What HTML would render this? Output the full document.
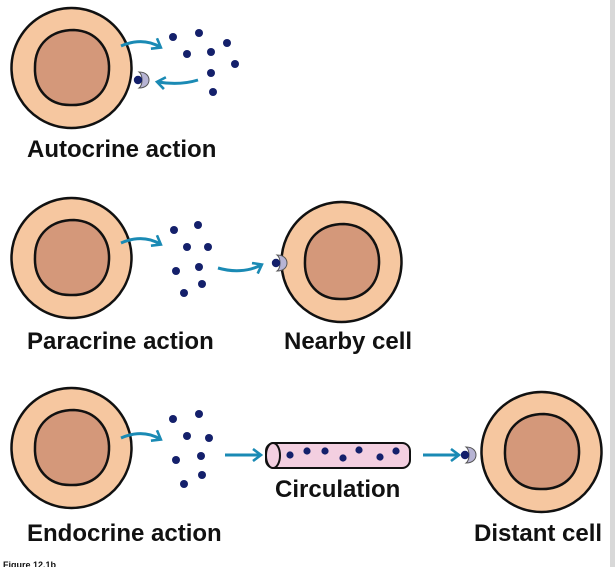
<!DOCTYPE html>
<html><head><style>
html,body{margin:0;padding:0;background:#fff;}
svg{display:block;}
text{font-family:"Liberation Sans",sans-serif;font-weight:bold;fill:#111;}
</style></head><body>
<svg width="615" height="567" viewBox="0 0 615 567" xmlns="http://www.w3.org/2000/svg">
<defs>
<marker id="ah" markerWidth="14" markerHeight="14" refX="9" refY="7" orient="auto" markerUnits="userSpaceOnUse">
<path d="M2,1 L10,7 L2,13" fill="none" stroke="#1a8ab4" stroke-width="2.6"/>
</marker>
<g id="cell">
<path d="M0,-60 A60,60 0 1 1 -1,-60 Z" fill="#f6c7a0" stroke="#111" stroke-width="2.5"/>
<path d="M2,-38 C24,-37 38,-20 37,2 C36,25 20,38 -2,37 C-24,37 -38,21 -37,-1 C-37,-24 -21,-38 2,-38Z" fill="#d4987a" stroke="#111" stroke-width="2.5"/>
</g>
<g id="rec">
<path d="M-2,-8 C6,-8 8,-3 8,0 C8,4 5,8 -2,8 C2,5 2,-5 -2,-8Z" fill="#b7b4d4" stroke="#555" stroke-width="1"/>
<circle cx="-3" cy="0" r="4.2" fill="#14206b"/>
</g>
</defs>
<rect x="610" y="0" width="5" height="567" fill="#d8d8d8"/>
<g fill="#14206b">
<circle cx="173" cy="37" r="4"/><circle cx="199" cy="33" r="4"/><circle cx="227" cy="43" r="4"/><circle cx="187" cy="54" r="4"/><circle cx="211" cy="52" r="4"/><circle cx="235" cy="64" r="4"/><circle cx="211" cy="73" r="4"/><circle cx="213" cy="92" r="4"/>
<circle cx="174" cy="230" r="4"/><circle cx="198" cy="225" r="4"/><circle cx="187" cy="247" r="4"/><circle cx="208" cy="247" r="4"/><circle cx="176" cy="271" r="4"/><circle cx="199" cy="267" r="4"/><circle cx="184" cy="293" r="4"/><circle cx="202" cy="284" r="4"/>
<circle cx="173" cy="419" r="4"/><circle cx="199" cy="414" r="4"/><circle cx="187" cy="436" r="4"/><circle cx="209" cy="438" r="4"/><circle cx="176" cy="460" r="4"/><circle cx="201" cy="456" r="4"/><circle cx="184" cy="484" r="4"/><circle cx="202" cy="475" r="4"/>
</g>
<use href="#cell" x="72" y="68"/>
<use href="#cell" x="72" y="258"/>
<use href="#cell" x="342" y="262"/>
<use href="#cell" x="72" y="448"/>
<use href="#cell" x="542" y="452"/>
<use href="#rec" x="141" y="80"/>
<use href="#rec" x="279" y="263"/>
<use href="#rec" x="468" y="455"/>
<g fill="none" stroke="#1a8ab4" stroke-width="3" marker-end="url(#ah)">
<path d="M121,46 C135,40 148,40 160,47"/>
<path d="M198,80 C185,84 170,84 158,82"/>
<path d="M121,243 C135,237 148,237 160,244"/>
<path d="M218,268 C232,272 248,272 261,265"/>
<path d="M121,438 C135,432 148,432 160,439"/>
<path d="M225,455 L260,455"/>
<path d="M423,455 L458,455"/>
</g>
<rect x="266" y="443" width="144" height="25" rx="8" fill="#f3cfe0" stroke="#111" stroke-width="2"/>
<ellipse cx="273" cy="455.5" rx="7" ry="12.5" fill="#f3cfe0" stroke="#111" stroke-width="2"/>
<g fill="#14206b">
<circle cx="290" cy="455" r="3.6"/><circle cx="307" cy="451" r="3.6"/><circle cx="325" cy="451" r="3.6"/><circle cx="343" cy="458" r="3.6"/><circle cx="359" cy="450" r="3.6"/><circle cx="380" cy="457" r="3.6"/><circle cx="396" cy="451" r="3.6"/>
</g>
<text x="27" y="157" font-size="24">Autocrine action</text>
<text x="27" y="349" font-size="24">Paracrine action</text>
<text x="284" y="349" font-size="24">Nearby cell</text>
<text x="275" y="497" font-size="24">Circulation</text>
<text x="27" y="541" font-size="24">Endocrine action</text>
<text x="474" y="541" font-size="24">Distant cell</text>
<text x="3" y="568" font-size="9">Figure 12.1b</text>
</svg>
</body></html>
